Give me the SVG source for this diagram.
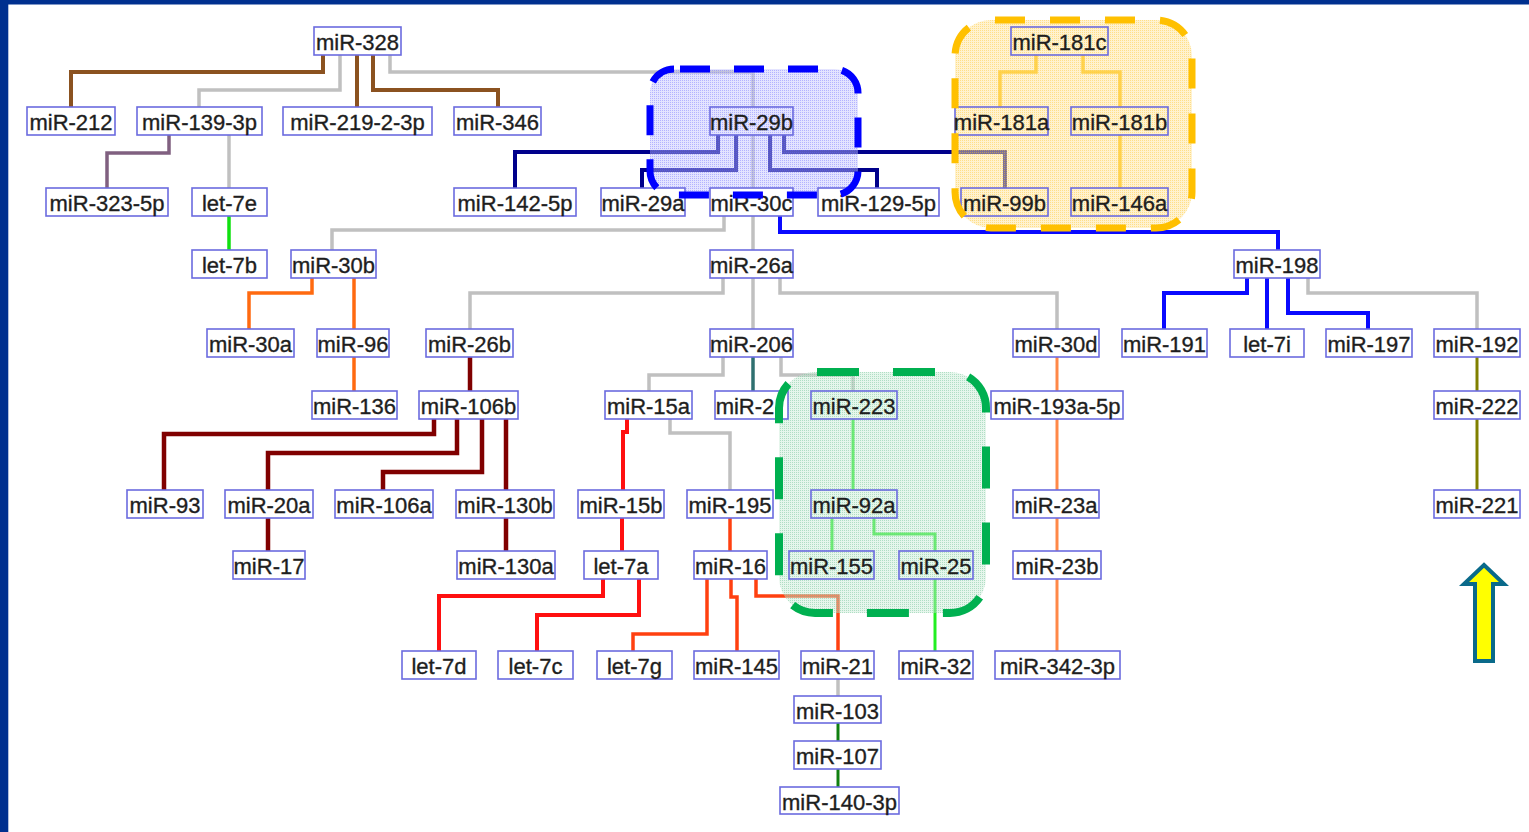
<svg xmlns="http://www.w3.org/2000/svg" width="1529" height="832" viewBox="0 0 1529 832">
  <style>
    .node rect { fill: #ffffff; stroke: #6b6bdf; stroke-width: 1.6; }
    .node.in rect { fill: none; }
    .node text { font-family: "Liberation Sans", Arial, sans-serif; font-size: 22px; fill: #1e1e1e; stroke: #1e1e1e; stroke-width: 0.35; text-anchor: middle; }
    .edge { fill: none; stroke-linejoin: miter; stroke-linecap: butt; }
    .brown { stroke: #8b5220; stroke-width: 4; }
    .gray { stroke: #c0c0c0; stroke-width: 3.5; }
    .purple { stroke: #806080; stroke-width: 3.5; }
    .lime { stroke: #10e010; stroke-width: 3.5; }
    .navy { stroke: #00008b; stroke-width: 4; }
    .gold { stroke: #ffc000; stroke-width: 3.5; }
    .blue { stroke: #0a0aff; stroke-width: 4; }
    .orange { stroke: #ff6a10; stroke-width: 3.5; }
    .darkred { stroke: #800000; stroke-width: 4.5; }
    .teal { stroke: #2f7070; stroke-width: 3.5; }
    .red { stroke: #ff1010; stroke-width: 4; }
    .orangered { stroke: #ff4010; stroke-width: 3.5; }
    .green { stroke: #22ee22; stroke-width: 3; }
    .salmon { stroke: #ff8848; stroke-width: 3; }
    .olive { stroke: #808000; stroke-width: 3; }
    .darkgreen { stroke: #108010; stroke-width: 3; }
    .outline { fill: none; stroke-linejoin: round; }
  </style>
  <defs>
    <pattern id="dotsBlue" width="2" height="2" patternUnits="userSpaceOnUse">
      <rect width="2" height="2" fill="#c4c4ff" fill-opacity="0.45"/>
      <rect width="1" height="1" fill="#6a6aff" fill-opacity="0.4"/>
    </pattern>
    <pattern id="dotsGold" width="2" height="2" patternUnits="userSpaceOnUse">
      <rect width="2" height="2" fill="#ffe6a0" fill-opacity="0.5"/>
      <rect width="1" height="1" fill="#ffc830" fill-opacity="0.45"/>
    </pattern>
    <pattern id="dotsGreen" width="2" height="2" patternUnits="userSpaceOnUse">
      <rect width="2" height="2" fill="#c8ecd6" fill-opacity="0.45"/>
      <rect width="1" height="1" fill="#60b888" fill-opacity="0.4"/>
    </pattern>
  </defs>

  <!-- page frame -->
  <rect x="0" y="0" width="1529" height="832" fill="#ffffff"/>
  <rect x="0" y="0" width="1529" height="4.5" fill="#00308f"/>
  <rect x="0" y="0" width="8.3" height="832" fill="#00308f"/>

  <!-- connectors -->
  <g id="connectors">
    <path class="edge brown" d="M323 55 V72 H71 V107"/>
    <path class="edge brown" d="M357 55 V107"/>
    <path class="edge brown" d="M373 55 V90 H498 V107"/>

    <path class="edge gray" d="M340 55 V90 H199 V107"/>
    <path class="edge gray" d="M390 55 V72 H753 V107"/>
    <path class="edge gray" d="M229 135 V188"/>
    <path class="edge gray" d="M753 135 V188"/>
    <path class="edge gray" d="M724 216 V230 H332 V250"/>
    <path class="edge gray" d="M753 216 V250"/>
    <path class="edge gray" d="M723 278 V293 H470 V329"/>
    <path class="edge gray" d="M753 278 V329"/>
    <path class="edge gray" d="M780 278 V293 H1057 V329"/>
    <path class="edge gray" d="M723 357 V375 H649 V391"/>
    <path class="edge gray" d="M781 357 V375 H853 V391"/>
    <path class="edge gray" d="M670 419 V433 H730 V490"/>
    <path class="edge gray" d="M1308 278 V293 H1477 V329"/>
    <path class="edge gray" d="M838 678 V696"/>

    <path class="edge purple" d="M169 135 V153 H107 V188"/>
    <path class="edge lime" d="M229 216 V250"/>

    <path class="edge navy" d="M718 135 V152 H515 V188"/>
    <path class="edge navy" d="M736 135 V170 H642 V188"/>
    <path class="edge navy" d="M770 135 V170 H877 V188"/>
    <path class="edge navy" d="M784 135 V152 H1005 V188"/>

    <path class="edge gold" d="M1036 55 V72 H1000 V107"/>
    <path class="edge gold" d="M1083 55 V72 H1120 V107"/>
    <path class="edge gold" d="M1120 135 V188"/>

    <path class="edge blue" d="M780 216 V232 H1278 V250"/>
    <path class="edge blue" d="M1247 278 V293 H1164 V329"/>
    <path class="edge blue" d="M1267 278 V329"/>
    <path class="edge blue" d="M1288 278 V313 H1368 V329"/>

    <path class="edge orange" d="M312 278 V293 H249 V329"/>
    <path class="edge orange" d="M354 278 V329"/>
    <path class="edge orange" d="M354 357 V391"/>

    <path class="edge darkred" d="M470 357 V391"/>
    <path class="edge darkred" d="M434 419 V434 H164 V490"/>
    <path class="edge darkred" d="M457 419 V453 H268 V490"/>
    <path class="edge darkred" d="M482 419 V472 H383 V490"/>
    <path class="edge darkred" d="M506 419 V490"/>
    <path class="edge darkred" d="M268 518 V551"/>
    <path class="edge darkred" d="M506 518 V551"/>

    <path class="edge teal" d="M753 357 V391"/>

    <path class="edge red" d="M627 419 V432 H623 V490"/>
    <path class="edge red" d="M622 518 V551"/>
    <path class="edge red" d="M603 579 V596 H439 V651"/>
    <path class="edge red" d="M639 579 V615 H537 V651"/>

    <path class="edge orangered" d="M730 518 V551"/>
    <path class="edge orangered" d="M707 579 V634 H633 V651"/>
    <path class="edge orangered" d="M731 579 V597 H737 V651"/>
    <path class="edge orangered" d="M756 579 V596 H838 V651"/>

    <path class="edge green" d="M853 419 V490"/>
    <path class="edge green" d="M832 518 V551"/>
    <path class="edge green" d="M874 518 V534 H935 V551"/>
    <path class="edge green" d="M935 579 V651"/>

    <path class="edge salmon" d="M1057 357 V391"/>
    <path class="edge salmon" d="M1057 419 V490"/>
    <path class="edge salmon" d="M1057 518 V551"/>
    <path class="edge salmon" d="M1057 579 V651"/>

    <path class="edge olive" d="M1477 357 V391"/>
    <path class="edge olive" d="M1477 419 V490"/>

    <path class="edge darkgreen" d="M838 723 V741"/>
    <path class="edge darkgreen" d="M838 769 V787"/>
  </g>

  <!-- shaded cluster areas, under the labels -->
  <g id="cluster-fills">
    <rect x="650" y="69" width="208" height="126" rx="24" fill="url(#dotsBlue)"/>
    <rect x="955" y="20" width="237" height="208" rx="36" fill="url(#dotsGold)"/>
    <rect x="779" y="372" width="207" height="241" rx="36" fill="url(#dotsGreen)"/>
  </g>

  <!-- nodes -->
  <g id="nodes">
    <g id="miR-328" class="node"><rect x="314" y="27" width="87" height="28"/><text x="357.5" y="50">miR-328</text></g>
    <g id="miR-181c" class="node in"><rect x="1011" y="27" width="97" height="28"/><text x="1059.5" y="50">miR-181c</text></g>

    <g id="miR-212" class="node"><rect x="27" y="107" width="88" height="28"/><text x="71" y="130">miR-212</text></g>
    <g id="miR-139-3p" class="node"><rect x="137" y="107" width="125" height="28"/><text x="199.5" y="130">miR-139-3p</text></g>
    <g id="miR-219-2-3p" class="node"><rect x="283" y="107" width="149" height="28"/><text x="357.5" y="130">miR-219-2-3p</text></g>
    <g id="miR-346" class="node"><rect x="454" y="107" width="87" height="28"/><text x="497.5" y="130">miR-346</text></g>
    <g id="miR-29b" class="node in"><rect x="710" y="107" width="83" height="28"/><text x="751.5" y="130">miR-29b</text></g>
    <g id="miR-181a" class="node in"><rect x="955" y="107" width="93" height="28"/><text x="1001.5" y="130">miR-181a</text></g>
    <g id="miR-181b" class="node in"><rect x="1071" y="107" width="97" height="28"/><text x="1119.5" y="130">miR-181b</text></g>

    <g id="miR-323-5p" class="node"><rect x="46" y="188" width="122" height="28"/><text x="107" y="211">miR-323-5p</text></g>
    <g id="let-7e" class="node"><rect x="192" y="188" width="75" height="28"/><text x="229.5" y="211">let-7e</text></g>
    <g id="miR-142-5p" class="node"><rect x="454" y="188" width="122" height="28"/><text x="515" y="211">miR-142-5p</text></g>
    <g id="miR-29a" class="node"><rect x="601" y="188" width="84" height="28"/><text x="643" y="211">miR-29a</text></g>
    <g id="miR-30c" class="node"><rect x="710" y="188" width="83" height="28"/><text x="751.5" y="211">miR-30c</text></g>
    <g id="miR-129-5p" class="node"><rect x="818" y="188" width="121" height="28"/><text x="878.5" y="211">miR-129-5p</text></g>
    <g id="miR-99b" class="node in"><rect x="961" y="188" width="87" height="28"/><text x="1004.5" y="211">miR-99b</text></g>
    <g id="miR-146a" class="node in"><rect x="1071" y="188" width="97" height="28"/><text x="1119.5" y="211">miR-146a</text></g>

    <g id="let-7b" class="node"><rect x="192" y="250" width="75" height="28"/><text x="229.5" y="273">let-7b</text></g>
    <g id="miR-30b" class="node"><rect x="291" y="250" width="85" height="28"/><text x="333.5" y="273">miR-30b</text></g>
    <g id="miR-26a" class="node"><rect x="710" y="250" width="83" height="28"/><text x="751.5" y="273">miR-26a</text></g>
    <g id="miR-198" class="node"><rect x="1234" y="250" width="86" height="28"/><text x="1277" y="273">miR-198</text></g>

    <g id="miR-30a" class="node"><rect x="207" y="329" width="87" height="28"/><text x="250.5" y="352">miR-30a</text></g>
    <g id="miR-96" class="node"><rect x="317" y="329" width="72" height="28"/><text x="353" y="352">miR-96</text></g>
    <g id="miR-26b" class="node"><rect x="426" y="329" width="87" height="28"/><text x="469.5" y="352">miR-26b</text></g>
    <g id="miR-206" class="node"><rect x="710" y="329" width="83" height="28"/><text x="751.5" y="352">miR-206</text></g>
    <g id="miR-30d" class="node"><rect x="1013" y="329" width="86" height="28"/><text x="1056" y="352">miR-30d</text></g>
    <g id="miR-191" class="node"><rect x="1122" y="329" width="85" height="28"/><text x="1164.5" y="352">miR-191</text></g>
    <g id="let-7i" class="node"><rect x="1230" y="329" width="74" height="28"/><text x="1267" y="352">let-7i</text></g>
    <g id="miR-197" class="node"><rect x="1326" y="329" width="86" height="28"/><text x="1369" y="352">miR-197</text></g>
    <g id="miR-192" class="node"><rect x="1434" y="329" width="86" height="28"/><text x="1477" y="352">miR-192</text></g>

    <g id="miR-136" class="node"><rect x="312" y="391" width="85" height="28"/><text x="354.5" y="414">miR-136</text></g>
    <g id="miR-106b" class="node"><rect x="419" y="391" width="99" height="28"/><text x="468.5" y="414">miR-106b</text></g>
    <g id="miR-15a" class="node"><rect x="605" y="391" width="87" height="28"/><text x="648.5" y="414">miR-15a</text></g>
    <g id="miR-27" class="node"><rect x="715" y="391" width="73" height="28"/><text x="745" y="414">miR-2</text></g>
    <g id="miR-223" class="node in"><rect x="811" y="391" width="86" height="28"/><text x="854" y="414">miR-223</text></g>
    <g id="miR-193a-5p" class="node"><rect x="991" y="391" width="132" height="28"/><text x="1057" y="414">miR-193a-5p</text></g>
    <g id="miR-222" class="node"><rect x="1434" y="391" width="86" height="28"/><text x="1477" y="414">miR-222</text></g>

    <g id="miR-93" class="node"><rect x="127" y="490" width="76" height="28"/><text x="165" y="513">miR-93</text></g>
    <g id="miR-20a" class="node"><rect x="225" y="490" width="88" height="28"/><text x="269" y="513">miR-20a</text></g>
    <g id="miR-106a" class="node"><rect x="335" y="490" width="98" height="28"/><text x="384" y="513">miR-106a</text></g>
    <g id="miR-130b" class="node"><rect x="456" y="490" width="98" height="28"/><text x="505" y="513">miR-130b</text></g>
    <g id="miR-15b" class="node"><rect x="578" y="490" width="86" height="28"/><text x="621" y="513">miR-15b</text></g>
    <g id="miR-195" class="node"><rect x="687" y="490" width="86" height="28"/><text x="730" y="513">miR-195</text></g>
    <g id="miR-92a" class="node in"><rect x="811" y="490" width="86" height="28"/><text x="854" y="513">miR-92a</text></g>
    <g id="miR-23a" class="node"><rect x="1013" y="490" width="86" height="28"/><text x="1056" y="513">miR-23a</text></g>
    <g id="miR-221" class="node"><rect x="1434" y="490" width="86" height="28"/><text x="1477" y="513">miR-221</text></g>

    <g id="miR-17" class="node"><rect x="233" y="551" width="72" height="28"/><text x="269" y="574">miR-17</text></g>
    <g id="miR-130a" class="node"><rect x="457" y="551" width="98" height="28"/><text x="506" y="574">miR-130a</text></g>
    <g id="let-7a" class="node"><rect x="584" y="551" width="74" height="28"/><text x="621" y="574">let-7a</text></g>
    <g id="miR-16" class="node"><rect x="694" y="551" width="73" height="28"/><text x="730.5" y="574">miR-16</text></g>
    <g id="miR-155" class="node in"><rect x="789" y="551" width="85" height="28"/><text x="831.5" y="574">miR-155</text></g>
    <g id="miR-25" class="node in"><rect x="899" y="551" width="74" height="28"/><text x="936" y="574">miR-25</text></g>
    <g id="miR-23b" class="node"><rect x="1013" y="551" width="88" height="28"/><text x="1057" y="574">miR-23b</text></g>

    <g id="let-7d" class="node"><rect x="402" y="651" width="74" height="28"/><text x="439" y="674">let-7d</text></g>
    <g id="let-7c" class="node"><rect x="498" y="651" width="75" height="28"/><text x="535.5" y="674">let-7c</text></g>
    <g id="let-7g" class="node"><rect x="597" y="651" width="75" height="28"/><text x="634.5" y="674">let-7g</text></g>
    <g id="miR-145" class="node"><rect x="694" y="651" width="85" height="28"/><text x="736.5" y="674">miR-145</text></g>
    <g id="miR-21" class="node"><rect x="801" y="651" width="73" height="28"/><text x="837.5" y="674">miR-21</text></g>
    <g id="miR-32" class="node"><rect x="899" y="651" width="74" height="28"/><text x="936" y="674">miR-32</text></g>
    <g id="miR-342-3p" class="node"><rect x="995" y="651" width="125" height="28"/><text x="1057.5" y="674">miR-342-3p</text></g>

    <g id="miR-103" class="node"><rect x="794" y="696" width="87" height="27"/><text x="837.5" y="719">miR-103</text></g>
    <g id="miR-107" class="node"><rect x="794" y="741" width="87" height="28"/><text x="837.5" y="764">miR-107</text></g>
    <g id="miR-140-3p" class="node"><rect x="780" y="787" width="119" height="27"/><text x="839.5" y="810">miR-140-3p</text></g>
  </g>

  <!-- dashed cluster borders, drawn over the labels -->
  <g id="cluster-outlines">
    <rect class="outline" x="650" y="69" width="208" height="126" rx="24" stroke="#0000ff" stroke-width="7" stroke-dasharray="30 24" stroke-dashoffset="-6"/>
    <rect class="outline" x="955" y="20" width="237" height="208" rx="36" stroke="#ffc000" stroke-width="7" stroke-dasharray="30 25" stroke-dashoffset="-4"/>
    <rect class="outline" x="779" y="372" width="207" height="241" rx="36" stroke="#00b050" stroke-width="8" stroke-dasharray="42 34" stroke-dashoffset="-2"/>
  </g>

  <!-- up arrow -->
  <g id="up-arrow">
    <polygon points="1484,565 1504,584 1493,584 1493,661 1475,661 1475,584 1464,584" fill="#ffff00" stroke="#0a6a8a" stroke-width="4" stroke-linejoin="miter"/>
  </g>
</svg>
